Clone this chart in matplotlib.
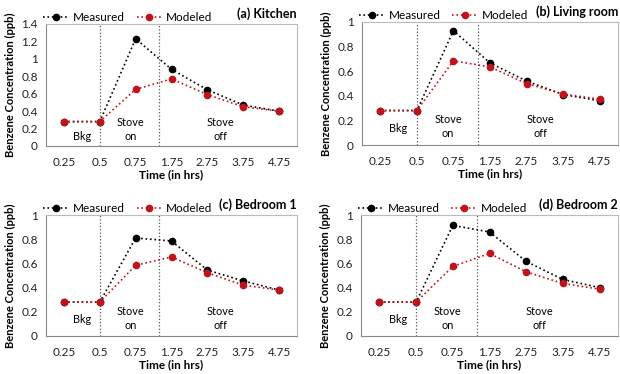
import matplotlib
matplotlib.use("Agg")
import matplotlib.pyplot as plt
from matplotlib.lines import Line2D

plt.rcParams["font.family"] = ["Lato", "DejaVu Sans"]

TIME_LABELS = ["0.25", "0.5", "0.75", "1.75", "2.75", "3.75", "4.75"]

# panel titles
TITLES = ["(a) Kitchen", "(b) Living room", "(c) Bedroom 1", "(d) Bedroom 2"]

measured_kitchen = [0.28, 0.28, 1.23, 0.88, 0.645, 0.47, 0.40]
modeled_kitchen = [0.28, 0.28, 0.65, 0.77, 0.59, 0.45, 0.40]

measured_living = [0.28, 0.28, 0.93, 0.667, 0.52, 0.41, 0.36]
modeled_living = [0.28, 0.28, 0.684, 0.635, 0.50, 0.414, 0.373]

measured_bed1 = [0.28, 0.28, 0.81, 0.785, 0.545, 0.455, 0.38]
modeled_bed1 = [0.28, 0.28, 0.584, 0.653, 0.523, 0.42, 0.38]

measured_bed2 = [0.28, 0.28, 0.914, 0.86, 0.616, 0.467, 0.40]
modeled_bed2 = [0.28, 0.28, 0.575, 0.682, 0.53, 0.434, 0.387]

YMAX = [1.4, 1.0, 1.0, 1.0]

BLACK = "#000000"
RED = "#C0141C"

W, H = 620, 374
# axes boxes in pixels: left, top, right, bottom
BOXES = [
    (46, 24, 297, 146),
    (362, 22, 618, 145),
    (46, 215, 297, 336),
    (361, 215, 618, 336),
]
# annotation heights (axes fraction): Bkg, Stove on/off
NOTE_Y = [(0.08, 0.136), (0.137, 0.148), (0.137, 0.142), (0.137, 0.145)]

fig = plt.figure(figsize=(6.2, 3.74), dpi=100)

data = [
    (measured_kitchen, modeled_kitchen),
    (measured_living, modeled_living),
    (measured_bed1, modeled_bed1),
    (measured_bed2, modeled_bed2),
]

x = list(range(len(TIME_LABELS)))

for (l, t, r, b), title, (meas, mod), ymax, (yb, ys) in zip(BOXES, TITLES, data, YMAX, NOTE_Y):
    ax = fig.add_axes([l / W, 1 - b / H, (r - l) / W, (b - t) / H])
    ax.plot(x, meas, ls=":", lw=1.2, color=BLACK, marker="o", ms=4.5, zorder=3)
    ax.plot(x, mod, ls=":", lw=1.2, color=RED, marker="o", ms=4.5, zorder=4)
    ax.axvline(1, color="#555555", ls=":", lw=0.9, zorder=1)
    ax.axvline(2.66, color="#555555", ls=":", lw=0.9, zorder=1)

    ax.set_xlim(-0.5, 6.5)
    ax.set_ylim(0, ymax)
    ax.set_xticks(x)
    ax.set_xticklabels(TIME_LABELS)
    yt = [round(v * 0.2, 1) for v in range(int(round(ymax / 0.2)) + 1)]
    ax.set_yticks(yt)
    ax.set_yticklabels([f"{v:g}" for v in yt])
    ax.tick_params(axis="both", length=0, labelsize=8.5, colors="#222222", pad=6)
    ax.tick_params(axis="x", pad=8)
    for s in ax.spines.values():
        s.set_color("#BBBBBB")
        s.set_linewidth(0.8)
    ax.spines["left"].set_color("#888888")
    ax.spines["bottom"].set_color("#888888")

    tr = ax.get_xaxis_transform()
    ax.text(0.5, yb, "Bkg", transform=tr, ha="center", va="center", fontsize=7.8)
    ax.text(1.85, ys, "Stove\non", transform=tr, ha="center", va="center",
            fontsize=7.8, linespacing=1.3)
    ax.text(4.37, ys, "Stove\noff", transform=tr, ha="center", va="center",
            fontsize=7.8, linespacing=1.3)

    ax.set_xlabel("Time (in hrs)", fontsize=8.5, fontweight="bold", labelpad=1)
    ax.set_ylabel("Benzene Concentration (ppb)", fontsize=8, fontweight="bold", labelpad=4)

    ax.text(1.0, 1.03, title, transform=ax.transAxes, ha="right", va="bottom",
            fontsize=9, fontweight="bold")

    handles = [
        Line2D([], [], ls=":", lw=1.2, color=BLACK, marker="o", ms=4.5),
        Line2D([], [], ls=":", lw=1.2, color=RED, marker="o", ms=4.5),
    ]
    ax.legend(handles, ["Measured", "Modeled"], loc="lower left", bbox_to_anchor=(-0.03, 0.97),
              ncol=2, frameon=False, fontsize=8.5, handlelength=2.2, handletextpad=0.3,
              columnspacing=1.0, borderaxespad=0)

fig.savefig("out.png", dpi=100)
